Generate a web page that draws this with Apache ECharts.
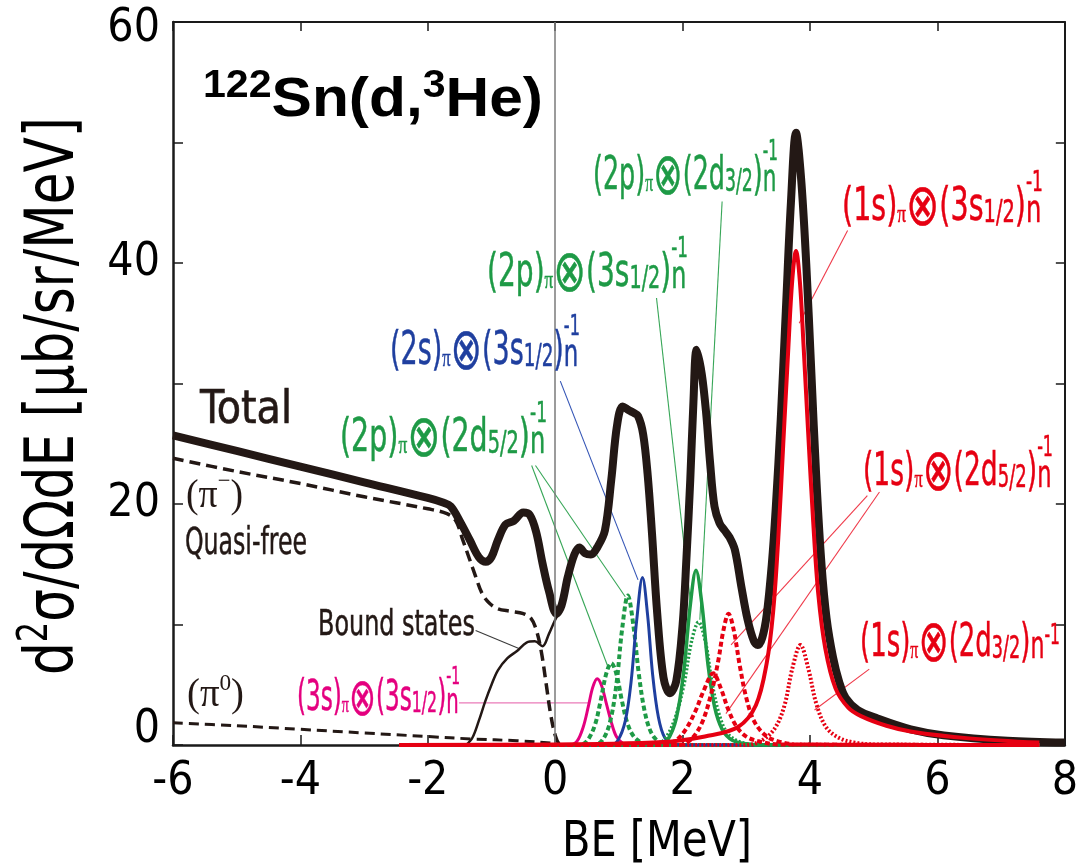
<!DOCTYPE html>
<html><head><meta charset="utf-8">
<script src="https://cdn.jsdelivr.net/npm/echarts@6/dist/echarts.min.js"></script>
<style>html,body{margin:0;padding:0;background:#fff}#c{width:1081px;height:867px}</style>
</head><body><div id="c"></div>
<script>
// ---------------- data ----------------
const xTicks = [-6, -4, -2, 0, 2, 4, 6, 8];
const yTickLabels = [0, 20, 40, 60];
const yTickStep = 10;

const total = [[-6,25.7],[-5,24.4],[-4,23.1],[-3,21.8],[-2,20.5],[-1.75,20.1],[-1.64,19.8],[-1.5,18.6],[-1.34,17.0],[-1.2,15.6],[-1.09,15.2],[-1.0,15.6],[-0.9,17.0],[-0.78,18.3],[-0.65,18.6],[-0.5,19.3],[-0.4,19.1],[-0.3,17.7],[-0.2,15.1],[-0.1,12.8],[0.02,10.9],[0.1,11.6],[0.2,14.0],[0.3,15.8],[0.38,16.4],[0.47,15.9],[0.56,15.8],[0.66,16.4],[0.78,17.8],[0.88,22.0],[0.97,26.5],[1.06,28.1],[1.15,27.8],[1.22,27.6],[1.3,27.3],[1.38,25.8],[1.45,22.5],[1.52,17.5],[1.6,11.0],[1.7,5.6],[1.8,4.3],[1.9,5.3],[2.0,10.0],[2.06,15.5],[2.12,22.0],[2.17,28.5],[2.22,32.8],[2.3,30.8],[2.37,27.5],[2.43,23.5],[2.5,19.8],[2.58,18.4],[2.66,17.8],[2.74,17.2],[2.82,16.2],[2.92,13.2],[3.02,10.4],[3.12,8.6],[3.18,8.3],[3.25,8.9],[3.32,10.8],[3.4,15.0],[3.46,19.5],[3.54,27],[3.62,36],[3.7,45],[3.78,50.8],[3.86,47],[3.94,40],[4.02,31],[4.1,22],[4.18,15],[4.26,10.5],[4.36,7.3],[4.46,5.2],[4.56,3.9],[4.75,2.9],[5.06,2.2],[5.58,1.3],[6.1,0.8],[7.1,0.35],[8.0,0.2]];
const quasiFreePiMinus = [[-6,23.8],[-5,22.7],[-4,21.7],[-3,20.6],[-2,19.6],[-1.7,19.2],[-1.56,18.6],[-1.45,17.0],[-1.35,15.5],[-1.25,14.0],[-1.15,12.6],[-1.04,11.8],[-0.9,11.3],[-0.7,11.1],[-0.5,10.9],[-0.38,10.5],[-0.3,9.6],[-0.22,7.8],[-0.14,5.0],[-0.07,2.5],[0.0,0.8],[0.06,0.1],[0.12,0]];
const quasiFreePi0 = [[-6,1.85],[-5,1.6],[-4,1.3],[-3,1.0],[-2,0.7],[-1.3,0.5],[-0.6,0.35],[-0.05,0.15],[0.1,0]];
const boundStates = [[-1.4,0],[-1.3,0.6],[-1.2,2.0],[-1.1,3.6],[-1.0,5.0],[-0.9,6.2],[-0.75,7.2],[-0.6,7.8],[-0.45,8.5],[-0.32,8.6],[-0.2,8.2],[-0.1,9.2],[0.0,10.4],[0.08,11.2]];

const s3s_3s12 = [[-2.45,0],[0.22,0],[0.34,0.3],[0.44,1.5],[0.52,3.2],[0.59,4.8],[0.66,5.5],[0.73,4.9],[0.8,3.5],[0.88,1.9],[0.96,0.7],[1.06,0.15],[1.2,0],[7.6,0]];
const s2p_2d52a = [[-2.45,0],[0.38,0],[0.5,0.35],[0.62,1.6],[0.71,3.6],[0.8,5.9],[0.88,6.8],[0.96,5.9],[1.05,3.6],[1.14,1.7],[1.25,0.6],[1.4,0.12],[1.6,0],[7.6,0]];
const s2p_2d52b = [[-2.45,0],[0.6,0],[0.74,0.4],[0.86,1.9],[0.96,5.0],[1.05,9.6],[1.14,12.4],[1.23,9.8],[1.31,6.0],[1.4,2.9],[1.5,1.1],[1.62,0.3],[1.8,0],[7.6,0]];
const s2s_3s12 = [[-2.45,0],[0.86,0],[0.98,0.35],[1.1,2.0],[1.19,5.2],[1.28,10.4],[1.37,13.9],[1.45,10.8],[1.53,5.8],[1.62,2.3],[1.72,0.6],[1.86,0.1],[2.0,0],[7.6,0]];
const s2p_3s12 = [[-2.45,0],[1.62,0],[1.76,0.4],[1.9,2.2],[2.02,6.2],[2.12,11.6],[2.21,14.5],[2.3,11.8],[2.4,6.6],[2.5,3.2],[2.62,1.3],[2.78,0.4],[3.0,0.1],[3.3,0],[7.6,0]];
const s2p_2d32 = [[-2.45,0],[1.55,0],[1.72,0.5],[1.88,2.2],[2.02,5.0],[2.14,8.6],[2.25,10.2],[2.36,8.5],[2.46,5.2],[2.57,2.6],[2.7,1.0],[2.9,0.25],[3.2,0],[7.6,0]];
const s1s_2d52a = [[-2.45,0],[1.72,0],[1.9,0.4],[2.05,1.3],[2.2,2.8],[2.33,4.5],[2.48,5.95],[2.6,4.7],[2.72,2.9],[2.85,1.5],[3.0,0.7],[3.2,0.3],[3.5,0.05],[7.6,0]];
const s1s_2d52b = [[-2.45,0],[1.95,0],[2.12,0.4],[2.3,1.8],[2.45,4.3],[2.56,7.0],[2.64,9.5],[2.72,10.9],[2.8,9.6],[2.9,6.5],[3.0,3.9],[3.12,2.0],[3.3,0.8],[3.5,0.3],[3.8,0.05],[7.6,0]];
const s1s_2d32 = [[-2.45,0],[3.0,0],[3.25,0.4],[3.45,1.4],[3.6,3.3],[3.72,6.3],[3.85,8.3],[3.97,6.4],[4.1,3.4],[4.25,1.5],[4.45,0.6],[4.7,0.2],[5.0,0.05],[7.6,0]];
const s1s_3s12 = [[-2.45,0],[0,0.05],[1.0,0.12],[1.83,0.3],[2.35,0.7],[2.87,1.5],[3.15,3.3],[3.32,6.8],[3.42,11],[3.5,17],[3.58,25],[3.66,33],[3.72,38.5],[3.78,41],[3.84,38.5],[3.9,33],[3.97,26],[4.05,18.5],[4.13,12.5],[4.24,8],[4.4,4.7],[4.6,3.1],[4.8,2.4],[5.2,1.6],[5.6,1.1],[6.5,0.55],[7.6,0.2]];

// ---------------- styling / annotations ----------------
const BLK = '#231815', GREEN = '#1e9a46', BLUE = '#1f3f9f', RED = '#e60012', MAG = '#e4007f';
const SANS = "'Liberation Sans', 'DejaVu Sans', sans-serif";
const SERIF = "'Liberation Serif', 'DejaVu Serif', serif";
const MATH = "'DejaVu Sans', 'Noto Sans', sans-serif";

const mctx = document.createElement('canvas').getContext('2d');
function hasFont(name) {
  const test = 'mmmmmmmmmmlli1WQ0123';
  for (const base of ['monospace', 'serif']) {
    mctx.font = '40px ' + base; const w0 = mctx.measureText(test).width;
    mctx.font = "40px '" + name + "', " + base; const w1 = mctx.measureText(test).width;
    if (Math.abs(w0 - w1) > 0.5) return true;
  }
  return false;
}
const NARROW = ['Liberation Sans Narrow', 'DejaVu Sans Condensed', 'Roboto Condensed'].find(hasFont);
const LFAM = NARROW ? "'" + NARROW + "', 'Liberation Sans', sans-serif" : SANS;

// leader lines (annotation geometry, in data units)
const leaders = [
  {c: '#3a3a3a', p: [[-1.25, 9.5], [-0.57, 8.0]]},
  {c: '#ea7bb8', p: [[-1.51, 3.5], [0.52, 3.5]]},
  {c: '#37a657', p: [[-0.37, 23.2], [0.82, 6.6]]},
  {c: '#37a657', p: [[-0.31, 23.2], [1.1, 12.3]]},
  {c: '#3354b5', p: [[0.08, 30.2], [1.3, 13.7]]},
  {c: '#37a657', p: [[1.59, 37.1], [2.12, 12.0]]},
  {c: '#37a657', p: [[2.62, 45.1], [2.27, 10.4]]},
  {c: '#ef3a4a', p: [[4.59, 42.7], [3.83, 35]]},
  {c: '#ef3a4a', p: [[4.9, 20.7], [2.76, 8.3]]},
  {c: '#ef3a4a', p: [[5.09, 21.0], [2.68, 2.6]]},
  {c: '#ef3a4a', p: [[4.93, 6.3], [4.07, 2.9]]}
];

function famOf(ff, o) { return ff === 'serif' ? SERIF : ff === 'math' ? MATH : (o.family || LFAM); }
function richPiece(o, list, D) {
  const F = o.size, wt = o.weight || 'normal';
  const rich = {}; let text = '';
  list.forEach((p, i) => {
    const [t, sc, sh, ff] = p;
    const fs = Math.round(F * sc * 10) / 10;
    const font = wt + ' ' + fs + 'px ' + famOf(ff, o);
    const h = 2 * (D + sh * F + 0.3465 * fs);
    rich['k' + i] = {font: font, fill: o.color, stroke: o.color, lineWidth: o.sw || 0, height: h, lineHeight: h, verticalAlign: 'bottom'};
    text += '{k' + i + '|' + t + '}';
  });
  return {text: text, rich: rich, align: 'left', verticalAlign: 'bottom', fill: o.color};
}
function makeText(o) {
  const F = o.size, D = 0.45 * F, wt = o.weight || 'normal';
  const main = [], stacked = [];
  let lx = 0, prevStart = 0, extent = 0;
  o.parts.forEach(p => {
    const [t, sc, sh, ff, stack] = p;
    const fs = Math.round(F * sc * 10) / 10;
    mctx.font = wt + ' ' + fs + 'px ' + famOf(ff, o);
    const w = mctx.measureText(t).width;
    if (stack) { stacked.push({p: p, at: prevStart}); extent = Math.max(extent, prevStart + w); }
    else { main.push(p); prevStart = lx; lx += w; extent = Math.max(extent, lx); }
  });
  const sx = o.w ? o.w / extent : 1;
  const els = [];
  const el = {type: 'text', silent: true, z: 100, scaleX: sx, style: richPiece(o, main, D)};
  if (o.rot) { el.rotation = Math.PI / 2; el.x = o.base + D; el.y = o.x; }
  else { el.x = o.x; el.y = o.base + D; }
  els.push(el);
  stacked.forEach(s => {
    els.push({type: 'text', silent: true, z: 100, scaleX: sx, x: o.x + s.at * sx, y: o.base + D, style: richPiece(o, [s.p], D)});
  });
  return els;
}
// nucleon-hole label: (a)π ⊗ (b frac) n with -1 stacked above n
function P(a, b, frac, inline) {
  return [[a,1,0],['π',0.55,0,'serif'],['⊗',1.25,-0.14,'math'],[b,1,0],[frac,0.68,-0.02],[')',1,0],['n',0.85,-0.04],
          inline ? ['-1',0.6,0.28] : ['-1',0.6,0.66,null,true]];
}
const FL = 47;
const texts = [
  {x: 203, base: 120, w: 340, size: 56, weight: 'bold', family: SANS, color: '#000', parts: [['122',0.68,0.36],['Sn(d,',1,0],['3',0.68,0.36],['He)',1,0]]},
  {x: 200, base: 427, w: 92, size: 47, color: BLK, sw: 0.6, parts: [['Total',1,0]]},
  {x: 186, base: 510, w: 57, size: 40, family: SERIF, color: BLK, parts: [['(',1,0],['π',1,0],['−',0.6,0.5],[')',1,0]]},
  {x: 185, base: 557, w: 122, size: 37, color: BLK, sw: 0.5, parts: [['Quasi-free',1,0]]},
  {x: 318, base: 638, w: 157, size: 36, color: BLK, sw: 0.5, parts: [['Bound states',1,0]]},
  {x: 187, base: 709, w: 57, size: 40, family: SERIF, color: BLK, parts: [['(',1,0],['π',1,0],['0',0.6,0.42],[')',1,0]]},
  {x: 593, base: 193, w: 185, size: FL, color: GREEN, sw: 0.5, parts: P('(2p)','(2d','3/2')},
  {x: 487, base: 290, w: 201, size: FL, color: GREEN, sw: 0.5, parts: P('(2p)','(3s','1/2')},
  {x: 390, base: 368, w: 190, size: FL, color: BLUE, sw: 0.5, parts: P('(2s)','(3s','1/2')},
  {x: 340, base: 455, w: 207, size: FL, color: GREEN, sw: 0.5, parts: P('(2p)','(2d','5/2')},
  {x: 297, base: 714, w: 163, size: 42, color: MAG, sw: 0.5, parts: P('(3s)','(3s','1/2')},
  {x: 842, base: 224, w: 201, size: FL, color: RED, sw: 0.5, parts: P('(1s)','(3s','1/2')},
  {x: 863, base: 489, w: 190, size: FL, color: RED, sw: 0.5, parts: P('(1s)','(2d','5/2')},
  {x: 860, base: 660, w: 200, size: FL, color: RED, sw: 0.5, parts: P('(1s)','(2d','3/2', true)},
  {x: 562, base: 860, w: 190, size: 50, color: '#000', parts: [['BE [MeV]',1,0]]},
  {x: 675, base: 79, w: 558, size: 68, color: '#000', rot: true, parts: [['d',1,0],['2',0.62,0.42],['σ/dΩdE [μb/sr/MeV]',1,0]]}
];

function curve(name, data, color, width, type, z) {
  return {type: 'line', name: name, data: data, symbol: 'none', showSymbol: false, smooth: 0.35,
    silent: true, z: z, lineStyle: {color: color, width: width, type: type, cap: 'butt', join: 'round'}};
}

const series = [];
leaders.forEach((l, i) => series.push(curve('leader' + i, l.p, l.c, 1.1, 'solid', 1)));
const pm = curve('π- quasi-free', quasiFreePiMinus, BLK, 3.5, [11, 6], 3);
const p0 = curve('π0 quasi-free', quasiFreePi0, BLK, 3, [10, 6], 3);
p0.markLine = {silent: true, symbol: ['none', 'none'], label: {show: false},
  lineStyle: {color: '#7a7a7a', width: 1.5, type: 'solid'}, data: [{xAxis: 0}]};
series.push(pm, p0);
series.push(curve('Bound states', boundStates, BLK, 2.5, 'solid', 3));
series.push(curve('Total', total, BLK, 8, 'solid', 4));
series.push(curve('(3s)(3s1/2)', s3s_3s12, MAG, 3, 'solid', 5));
series.push(curve('(2p)(2d5/2) a', s2p_2d52a, GREEN, 4, [5, 3], 5));
series.push(curve('(2p)(2d5/2) b', s2p_2d52b, GREEN, 4, [5, 3], 5));
series.push(curve('(2s)(3s1/2)', s2s_3s12, BLUE, 3, 'solid', 5));
series.push(curve('(2p)(2d3/2)', s2p_2d32, GREEN, 3.5, [2, 2], 5));
series.push(curve('(2p)(3s1/2)', s2p_3s12, GREEN, 3.5, 'solid', 5));
series.push(curve('(1s)(2d5/2) a', s1s_2d52a, RED, 4, [5, 3], 6));
series.push(curve('(1s)(2d5/2) b', s1s_2d52b, RED, 4, [5, 3], 6));
series.push(curve('(1s)(2d3/2)', s1s_2d32, RED, 4, [2, 2], 6));
series.push(curve('(1s)(3s1/2)', s1s_3s12, RED, 4, 'solid', 7));

const axisCol = '#1a1a1a';
const tickFont = {fontSize: 46, fontFamily: LFAM, color: '#000'};
const option = {
  animation: false,
  backgroundColor: '#fff',
  grid: {left: 173, right: 13, top: 22, bottom: 122},
  xAxis: [
    {type: 'value', min: xTicks[0], max: xTicks[xTicks.length - 1], interval: xTicks[1] - xTicks[0], position: 'bottom',
      axisLine: {show: true, onZero: false, lineStyle: {color: axisCol, width: 2.5}},
      axisTick: {show: true, inside: true, length: 10, lineStyle: {color: axisCol, width: 1.5}},
      axisLabel: Object.assign({show: true, margin: 14, showMinLabel: true, showMaxLabel: true,
        formatter: v => xTicks.includes(v) ? String(v) : ''}, tickFont),
      splitLine: {show: false}},
    {type: 'value', min: xTicks[0], max: xTicks[xTicks.length - 1], interval: xTicks[1] - xTicks[0], position: 'top',
      axisLine: {show: true, onZero: false, lineStyle: {color: axisCol, width: 2}},
      axisTick: {show: true, inside: true, length: 9, lineStyle: {color: axisCol, width: 1.5}},
      axisLabel: {show: false}, splitLine: {show: false}}
  ],
  yAxis: [
    {type: 'value', min: 0, max: 60, interval: yTickStep, position: 'left',
      axisLine: {show: true, onZero: false, lineStyle: {color: axisCol, width: 2.5}},
      axisTick: {show: true, inside: true, length: 10, lineStyle: {color: axisCol, width: 1.5}},
      axisLabel: Object.assign({show: true, margin: 13, showMinLabel: true, showMaxLabel: true,
        formatter: v => {
          if (!yTickLabels.includes(v)) return '';
          if (v === yTickLabels[0]) return '{lo|' + v + '}';
          if (v === yTickLabels[yTickLabels.length - 1]) return '{hi|' + v + '}';
          return String(v);
        },
        rich: {lo: Object.assign({padding: [0, 0, 30, 0]}, tickFont),
               hi: Object.assign({padding: [14, 0, 0, 0]}, tickFont)}}, tickFont),
      splitLine: {show: false}},
    {type: 'value', min: 0, max: 60, interval: yTickStep, position: 'right',
      axisLine: {show: true, onZero: false, lineStyle: {color: axisCol, width: 2}},
      axisTick: {show: true, inside: true, length: 9, lineStyle: {color: axisCol, width: 1.5}},
      axisLabel: {show: false}, splitLine: {show: false}}
  ],
  series: series,
  graphic: [].concat(...texts.map(makeText))
};

const chart = echarts.init(document.getElementById('c'), null, {renderer: 'canvas'});
chart.setOption(option);
</script>
</body></html>
